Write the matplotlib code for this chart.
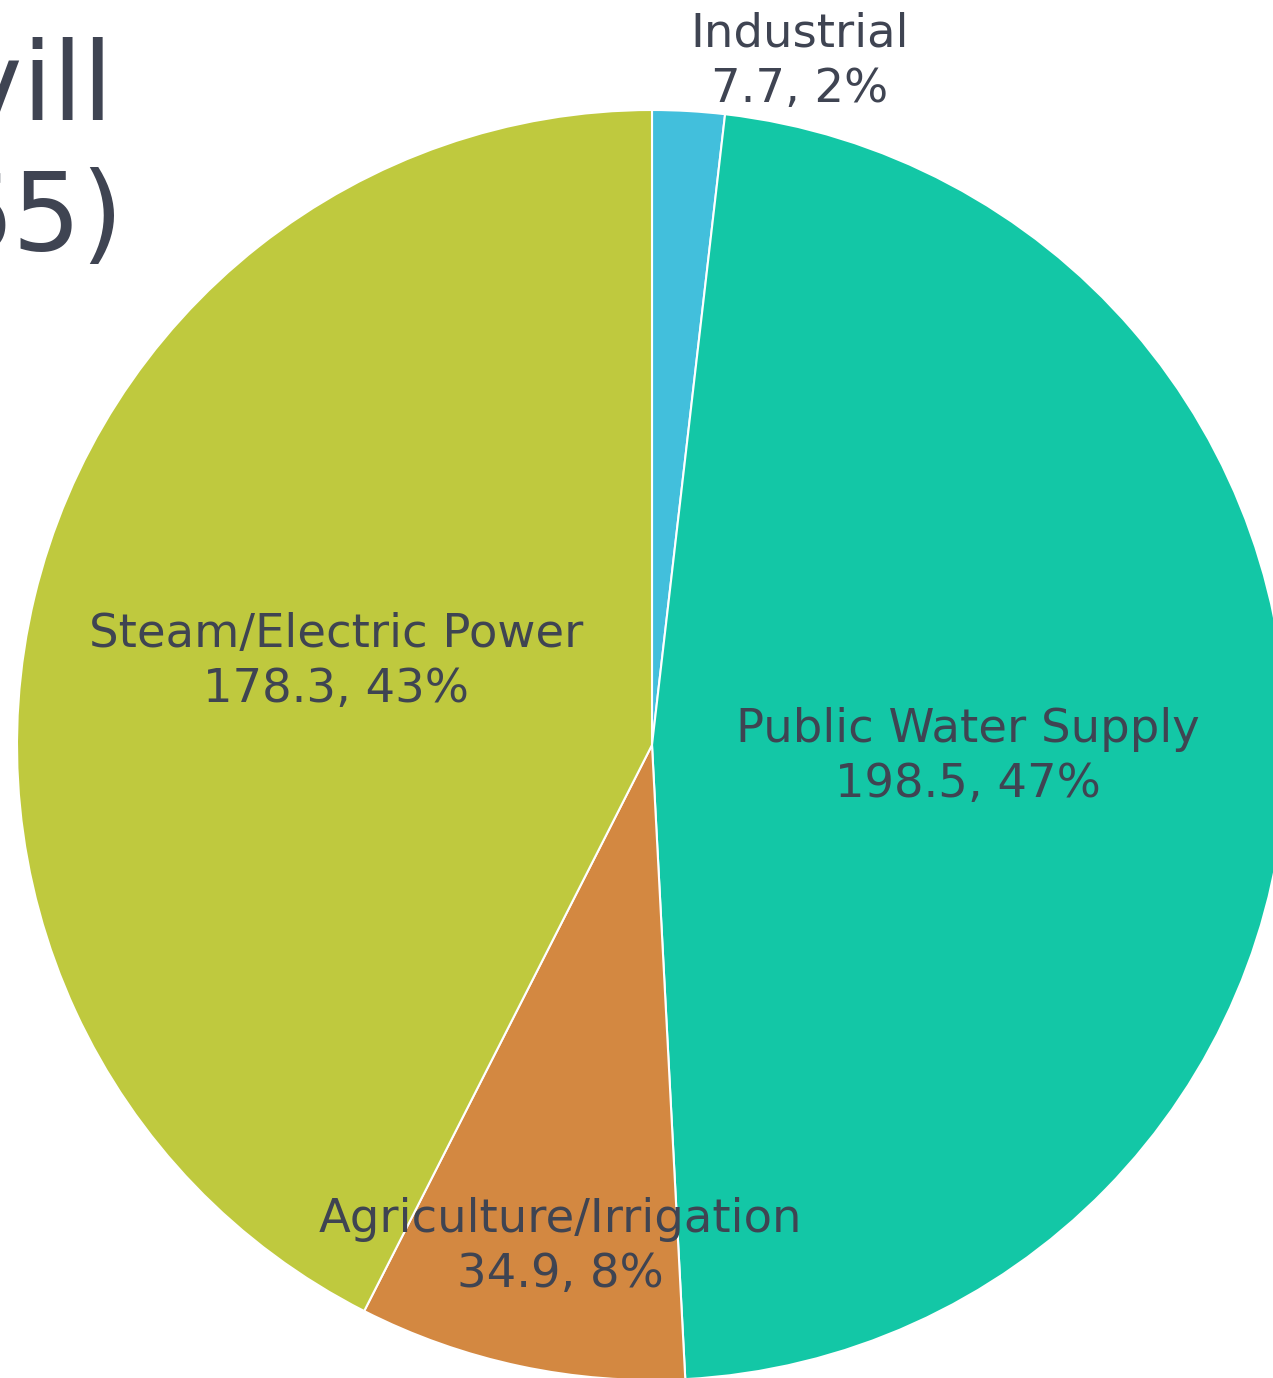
import matplotlib.pyplot as plt

# water use by category (MGD)
categories = ["Industrial", "Public Water Supply", "Agriculture/Irrigation", "Steam/Electric Power"]
values = [7.7, 198.5, 34.9, 178.3]
percents = ["2%", "47%", "8%", "43%"]
colors = ["#42BFDC", "#13C7A6", "#D38841", "#BFC93E"]

txt_color = "#3F4452"
W, H = 1273, 1378


def main():
    fig = plt.figure(figsize=(W / 100, H / 100), dpi=100)
    ax = fig.add_axes([0, 0, 1, 1])

    ax.pie(values, colors=colors, startangle=90, counterclock=False,
           center=(652, H - 745), radius=635,
           wedgeprops=dict(edgecolor="white", linewidth=1.5))
    ax.set_xlim(0, W)
    ax.set_ylim(0, H)
    ax.set_aspect("equal")
    ax.axis("off")

    # label positions (pixels from top-left)
    label_pos = [(800, 62), (968, 757), (560, 1247), (336, 662)]
    for cat, v, p, (x, y) in zip(categories, values, percents, label_pos):
        ax.text(x, H - y, f"{cat}\n{v}, {p}", ha="center", va="center",
                fontsize=33.5, color=txt_color, linespacing=1.3,
                family="DejaVu Sans")

    # title, cut off by the left edge
    ax.text(114, H - 120, "Greenvill", ha="right", va="baseline",
            fontsize=78, color=txt_color)
    ax.text(124, H - 250, "(1965)", ha="right", va="baseline",
            fontsize=78, color=txt_color)

    fig.savefig("out.png", dpi=100)


if __name__ == '__main__':
    main()
